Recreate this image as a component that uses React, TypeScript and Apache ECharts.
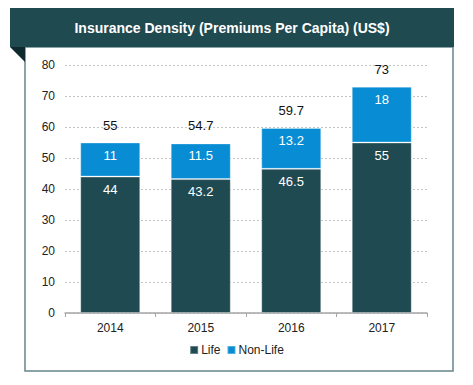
import React, { useEffect, useRef } from "react";
import * as echarts from "echarts";

const categories = ["2014", "2015", "2016", "2017"];
const lifeValues = [44, 43.2, 46.5, 55];
const nonLifeValues = [11, 11.5, 13.2, 18];
const totals = lifeValues.map((v, i) => Math.round((v + nonLifeValues[i]) * 10) / 10);
const title = "Insurance Density (Premiums Per Capita) (US$)";

const FONT = "Liberation Sans, Arial, Helvetica, sans-serif";

export default function App() {
  const ref = useRef<HTMLDivElement>(null);
  useEffect(() => {
    if (!ref.current) return;
    const chart = echarts.init(ref.current, undefined, { renderer: "svg" });
    chart.setOption({
      animation: false,
      textStyle: { fontFamily: FONT },
      graphic: [
        {
          type: "rect",
          shape: { x: 25, y: 47, width: 428, height: 324 },
          style: { fill: "#ffffff", stroke: "#66858b", lineWidth: 1.5 },
          z: -1,
        },
        {
          type: "rect",
          shape: { x: 10, y: 8, width: 444, height: 39 },
          style: { fill: "#1f4a50" },
        },
        {
          type: "polygon",
          shape: { points: [[10, 47], [25, 47], [25, 62]] },
          style: { fill: "#0e2a2e" },
        },
        {
          type: "text",
          x: 232,
          y: 28,
          style: {
            text: title,
            fill: "#ffffff",
            font: `bold 14px ${FONT}`,
            textAlign: "center",
            textVerticalAlign: "middle",
          },
        },
      ],
      legend: {
        data: ["Life", "Non-Life"],
        bottom: 24,
        left: "center",
        itemWidth: 8,
        itemHeight: 8,
        itemGap: 6,
        icon: "rect",
        textStyle: { fontSize: 12, color: "#222", fontFamily: FONT, padding: [0, 0, 0, -2] },
      },
      grid: { left: 65, right: 46, top: 65, bottom: 72 },
      xAxis: {
        type: "category",
        data: categories,
        axisLine: { lineStyle: { color: "#a6a6a6", width: 1.5 } },
        axisTick: { show: true, length: 4, lineStyle: { color: "#a6a6a6" } },
        axisLabel: { color: "#222", fontSize: 12, margin: 9, fontFamily: FONT },
      },
      yAxis: {
        type: "value",
        min: 0,
        max: 80,
        interval: 10,
        axisLine: { show: false },
        axisTick: { show: false },
        axisLabel: { color: "#222", fontSize: 12, margin: 10, fontFamily: FONT },
        splitLine: { lineStyle: { color: "#c4c4c4", type: [2, 2], width: 1 } },
      },
      series: [
        {
          name: "Life",
          type: "bar",
          stack: "total",
          data: lifeValues,
          barWidth: 60,
          itemStyle: { color: "#1f4a52", borderColor: "rgba(255,255,255,0.3)", borderWidth: 1 },
          label: {
            show: true,
            position: "insideTop",
            distance: 6,
            color: "#ffffff",
            fontSize: 13,
            fontFamily: FONT,
          },
        },
        {
          name: "Non-Life",
          type: "bar",
          stack: "total",
          data: nonLifeValues,
          barWidth: 60,
          itemStyle: { color: "#088dd5", borderColor: "rgba(255,255,255,0.3)", borderWidth: 1 },
          label: {
            show: true,
            position: "insideTop",
            distance: 6,
            color: "#ffffff",
            fontSize: 13,
            fontFamily: FONT,
          },
        },
        {
          name: "Total",
          type: "bar",
          data: totals,
          barWidth: 60,
          barGap: "-100%",
          z: 0,
          itemStyle: { color: "rgba(0,0,0,0)" },
          label: {
            show: true,
            position: "top",
            distance: 11,
            color: "#111",
            fontSize: 13,
            fontFamily: FONT,
          },
        },
      ],
    });
    return () => chart.dispose();
  }, []);
  return (
    <div
      ref={ref}
      style={{ position: "absolute", left: 0, top: 0, width: 473, height: 385 }}
    />
  );
}
